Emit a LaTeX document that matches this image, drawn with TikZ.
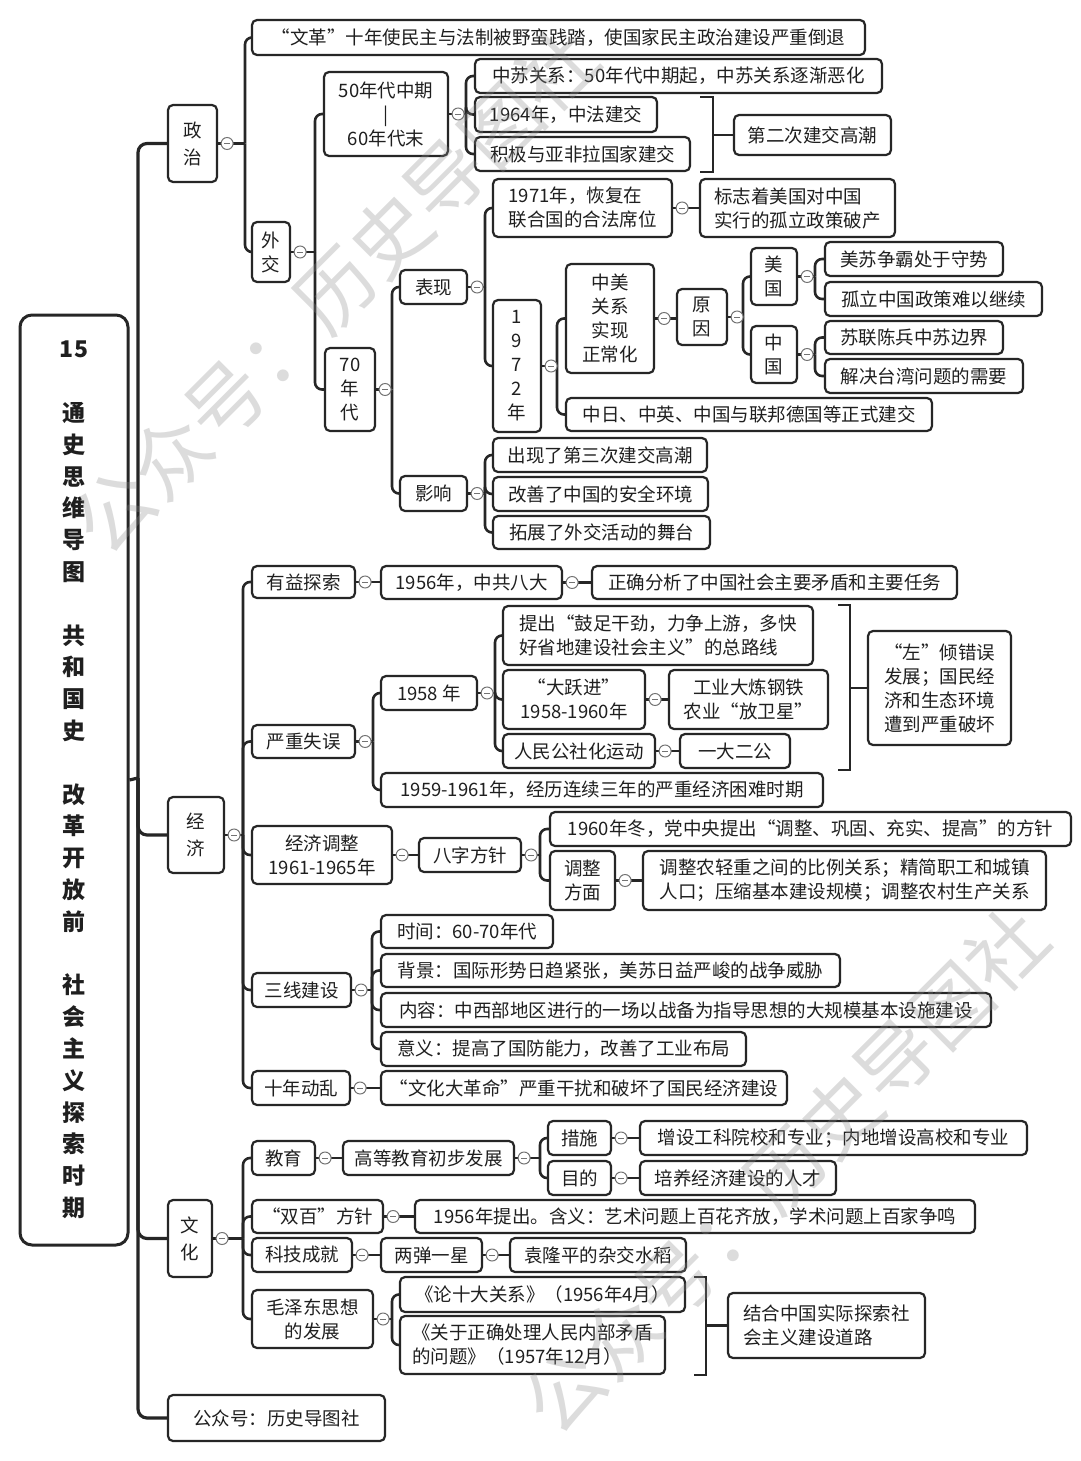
\documentclass[tikz,border=0pt]{standalone}
\usepackage{fontspec}
\setmainfont{Noto Sans CJK SC}
\usetikzlibrary{calc,backgrounds}
\newcommand\bx[7][]{%
  \node[box,#1,minimum width={(#5)-(#3)},minimum height={(#6)-(#4)}] (#2) at ({((#3)+(#5))/2},{((#4)+(#6))/2}) {#7};}
\newcommand\cc[1]{\node[ccs] (c-#1) at ([xshift=9pt]#1.east) {};}
\newcommand\grp[3]{%
  \coordinate (spx-#1) at (#2,0);
  \coordinate (sp-#1) at (#1.east -| spx-#1);
  \draw[conn] (#1.east) -- (sp-#1);
  \foreach \cx in {#3} {\draw[conn] (sp-#1) |- (\cx.west);}}
\newcommand\lnk[2]{\draw[conn] (#1.east) -- (#1.east -| #2.west);}
\begin{document}
\begin{tikzpicture}[x=1pt,y=-1pt,
  every node/.style={font=\fontsize{18.5}{24}\selectfont},
  box/.style={draw=black!85,line width=2.2pt,rounded corners=5pt,fill=white,inner xsep=6pt,inner ysep=2pt,align=center,text=black!88},
  lbox/.style={align=left},
  ccs/.style={circle,draw=black!55,fill=white,line width=1pt,minimum size=12pt,inner sep=0pt,
    path picture={\draw[black!55,line width=0.9pt] ([xshift=-3pt]path picture bounding box.center) -- ([xshift=3pt]path picture bounding box.center);}},
  conn/.style={draw=black!85,line width=2.6pt,rounded corners=7pt},
  trunk/.style={draw=black!85,line width=3.2pt,rounded corners=9pt},
  brk/.style={draw=black!85,line width=2.4pt},
  wm/.style={font=\fontsize{78}{78}\selectfont,text=black!45,opacity=0.3}]
\useasboundingbox (0,0) rectangle (1080,1461);

% ---------- root ----------
\bx[font=\bfseries\fontsize{23}{31.8}\selectfont,rounded corners=12pt,line width=3pt]{root}{20}{315}{128}{1245}{15\\\mbox{}\\通\\史\\思\\维\\导\\图\\\mbox{}\\共\\和\\国\\史\\\mbox{}\\改\\革\\开\\放\\前\\\mbox{}\\社\\会\\主\\义\\探\\索\\时\\期}

% ---------- politics ----------
\bx{zz}{168}{105}{217}{182}{政\\[3pt]治}
\bx{wg}{252}{20}{865}{55}{“文革”十年使民主与法制被野蛮践踏，使国家民主政治建设严重倒退}
\bx{wj}{252}{222}{290}{282}{外\\交}
\bx{q50}{324}{72}{448}{156}{50年代中期\\|\\60年代末}
\bx{zs}{475}{59}{882}{93}{中苏关系：50年代中期起，中苏关系逐渐恶化}
\bx{zf}{475}{97}{657}{132}{1964年，中法建交}
\bx{yfl}{475}{137}{690}{171}{积极与亚非拉国家建交}
\bx{dec2}{734}{115}{891}{155}{第二次建交高潮}
\bx{q70}{325}{348}{375}{431}{70\\年\\代}
\bx{bxian}{400}{270}{467}{304}{表现}
\bx[lbox]{y1971}{493}{179}{672}{237}{1971年，恢复在\\联合国的合法席位}
\bx[lbox]{bzz}{700}{179}{895}{237}{标志着美国对中国\\实行的孤立政策破产}
\bx{y1972}{493}{300}{541}{432}{1\\9\\7\\2\\年}
\bx{zmgx}{566}{264}{654}{373}{中美\\关系\\实现\\正常化}
\bx{yy}{677}{289}{727}{345}{原\\因}
\bx{mg}{751}{248}{797}{305}{美\\国}
\bx{zg}{751}{326}{797}{383}{中\\国}
\bx{ms1}{825}{242}{1003}{276}{美苏争霸处于守势}
\bx{ms2}{825}{282}{1042}{316}{孤立中国政策难以继续}
\bx{ms3}{825}{321}{1003}{354}{苏联陈兵中苏边界}
\bx{ms4}{825}{359}{1023}{393}{解决台湾问题的需要}
\bx{zr}{566}{398}{932}{431}{中日、中英、中国与联邦德国等正式建交}
\bx{yx}{400}{476}{467}{511}{影响}
\bx{yx1}{493}{438}{707}{472}{出现了第三次建交高潮}
\bx{yx2}{493}{477}{708}{511}{改善了中国的安全环境}
\bx{yx3}{493}{516}{710}{549}{拓展了外交活动的舞台}

% ---------- economy ----------
\bx{jj}{168}{797}{224}{873}{经\\[3pt]济}
\bx{yi}{252}{566}{355}{598}{有益探索}
\bx{bd}{381}{566}{562}{599}{1956年，中共八大}
\bx{zqfx}{592}{566}{957}{599}{正确分析了中国社会主要矛盾和主要任务}
\bx{yzsw}{252}{725}{355}{758}{严重失误}
\bx{y58}{381}{676}{477}{710}{1958 年}
\bx[lbox]{tc}{503}{606}{813}{665}{提出“鼓足干劲，力争上游，多快\\好省地建设社会主义”的总路线}
\bx{dyj}{503}{670}{645}{729}{“大跃进”\\1958-1960年}
\bx{gy}{669}{670}{828}{729}{工业大炼钢铁\\农业“放卫星”}
\bx{rm}{503}{734}{655}{768}{人民公社化运动}
\bx{yd}{680}{734}{790}{768}{一大二公}
\bx[lbox]{zq}{868}{631}{1011}{745}{“左”倾错误\\发展；国民经\\济和生态环境\\遭到严重破坏}
\bx{y5961}{381}{773}{823}{807}{1959-1961年，经历连续三年的严重经济困难时期}
\bx{jjtz}{252}{826}{392}{884}{经济调整\\1961-1965年}
\bx{bzfz}{419}{838}{521}{872}{八字方针}
\bx{y60}{550}{812}{1071}{846}{1960年冬，党中央提出“调整、巩固、充实、提高”的方针}
\bx{tzfm}{550}{851}{615}{910}{调整\\方面}
\bx[lbox]{tznq}{643}{851}{1046}{910}{调整农轻重之间的比例关系；精简职工和城镇\\人口；压缩基本建设规模；调整农村生产关系}
\bx{sx}{252}{973}{351}{1007}{三线建设}
\bx{sj}{381}{915}{553}{948}{时间：60-70年代}
\bx{bj}{381}{954}{840}{987}{背景：国际形势日趋紧张，美苏日益严峻的战争威胁}
\bx{nr}{381}{993}{991}{1027}{内容：中西部地区进行的一场以战备为指导思想的大规模基本设施建设}
\bx{yyi}{381}{1032}{746}{1066}{意义：提高了国防能力，改善了工业布局}
\bx{sndl}{252}{1071}{350}{1105}{十年动乱}
\bx{whdgm}{381}{1071}{787}{1105}{“文化大革命”严重干扰和破坏了国民经济建设}

% ---------- culture ----------
\bx{wh}{168}{1200}{212}{1277}{文\\[3pt]化}
\bx{jy}{252}{1141}{315}{1175}{教育}
\bx{gdjy}{343}{1141}{514}{1175}{高等教育初步发展}
\bx{cs}{548}{1121}{611}{1155}{措施}
\bx{zsgk}{640}{1121}{1027}{1155}{增设工科院校和专业；内地增设高校和专业}
\bx{md}{548}{1161}{611}{1195}{目的}
\bx{pyjj}{640}{1161}{836}{1195}{培养经济建设的人才}
\bx{sb}{252}{1200}{383}{1233}{“双百”方针}
\bx{y1956}{415}{1200}{975}{1233}{1956年提出。含义：艺术问题上百花齐放，学术问题上百家争鸣}
\bx{kj}{252}{1238}{352}{1272}{科技成就}
\bx{ldyx}{381}{1238}{482}{1272}{两弹一星}
\bx{ylp}{510}{1238}{686}{1272}{袁隆平的杂交水稻}
\bx{mzd}{252}{1290}{373}{1348}{毛泽东思想\\的发展}
\bx{lsd}{400}{1277}{685}{1312}{《论十大关系》（1956年4月）}
\bx[lbox]{gyzq}{400}{1316}{665}{1374}{《关于正确处理人民内部矛盾\\的问题》（1957年12月）}
\bx[lbox]{jhzg}{728}{1293}{925}{1358}{结合中国实际探索社\\会主义建设道路}
\bx{gzh}{168}{1395}{385}{1441}{公众号：历史导图社}

% ---------- connectors ----------
\begin{scope}[on background layer]
\fill[white] (0,0) rectangle (1080,1461);
\coordinate (t0) at (138,778);
\draw[trunk] (root.east) -- (t0);
\foreach \cx in {zz,jj,wh,gzh} {\draw[trunk] (t0) |- (\cx.west);}
\grp{zz}{245}{wg,wj}
\grp{wj}{315}{q50,q70}
\grp{q50}{466}{zs,zf,yfl}
\grp{q70}{392}{bxian,yx}
\grp{bxian}{485}{y1971,y1972}
\lnk{y1971}{bzz}
\grp{y1972}{557}{zmgx,zr}
\lnk{zmgx}{yy}
\grp{yy}{743}{mg,zg}
\grp{mg}{815}{ms1,ms2}
\grp{zg}{815}{ms3,ms4}
\grp{yx}{485}{yx1,yx2,yx3}
\grp{jj}{243}{yi,yzsw,jjtz,sx,sndl}
\lnk{yi}{bd}
\lnk{bd}{zqfx}
\grp{yzsw}{373}{y58,y5961}
\grp{y58}{495}{tc,dyj,rm}
\lnk{dyj}{gy}
\lnk{rm}{yd}
\lnk{jjtz}{bzfz}
\grp{bzfz}{540}{y60,tzfm}
\lnk{tzfm}{tznq}
\grp{sx}{372}{sj,bj,nr,yyi}
\lnk{sndl}{whdgm}
\grp{wh}{243}{jy,sb,kj,mzd}
\lnk{jy}{gdjy}
\grp{gdjy}{540}{cs,md}
\lnk{cs}{zsgk}
\lnk{md}{pyjj}
\lnk{sb}{y1956}
\lnk{kj}{ldyx}
\lnk{ldyx}{ylp}
\grp{mzd}{392}{lsd,gyzq}
% brackets
\draw[brk] (700,97) -- (713,97) -- (713,172) -- (700,172);
\draw[brk] (dec2.west) -- (dec2.west -| 713,0);
\draw[brk] (838,605) -- (850,605) -- (850,770) -- (838,770);
\draw[brk] (zq.west) -- (zq.west -| 850,0);
\draw[brk] (694,1277) -- (706,1277) -- (706,1375) -- (694,1375);
\draw[brk] (jhzg.west) -- (jhzg.west -| 706,0);
\end{scope}

% ---------- collapse circles ----------
\foreach \cx in {zz,wj,q50,q70,bxian,y1971,y1972,zmgx,yy,mg,zg,yx,jj,yi,bd,yzsw,y58,dyj,rm,jjtz,bzfz,tzfm,sx,sndl,wh,jy,gdjy,cs,md,sb,kj,ldyx,mzd} {\cc{\cx}}

% ---------- watermark ----------
\node[wm,rotate=45] (wm1) at (335,290) {公众号：历史导图社};
\node[wm,rotate=45] (wm2) at (785,1170) {公众号：历史导图社};
\end{tikzpicture}
\end{document}
